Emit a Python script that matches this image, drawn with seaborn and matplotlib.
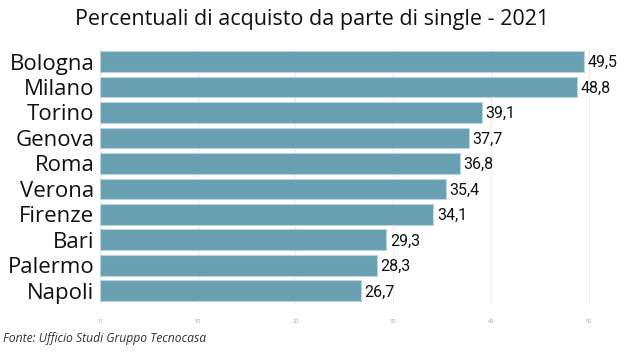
import pandas as pd
import seaborn as sns
import matplotlib.pyplot as plt

cities = ['Bologna', 'Milano', 'Torino', 'Genova', 'Roma',
          'Verona', 'Firenze', 'Bari', 'Palermo', 'Napoli']
values = [49.5, 48.8, 39.1, 37.7, 36.8, 35.4, 34.1, 29.3, 28.3, 26.7]
x_ticks = [0, 10, 20, 30, 40, 50]

title = 'Percentuali di acquisto da parte di single - 2021'
source = 'Fonte: Ufficio Studi Gruppo Tecnocasa'

sns.set_style("white")
plt.rcParams['font.family'] = ['Open Sans', 'DejaVu Sans']

df = pd.DataFrame({'city': cities, 'value': values})

fig = plt.figure(figsize=(6.24, 3.56), dpi=100)
ax = fig.add_axes([0.16, 0.147, 0.815, 0.716])

sns.barplot(data=df, x='value', y='city', color='#68a0b1', saturation=1,
            width=0.82, edgecolor='#b9d6df', linewidth=0.8, ax=ax, zorder=2)

ax.set_xlim(0, 52)
ax.set_xticks(x_ticks)
ax.set_xticklabels([str(t) for t in x_ticks])
ax.tick_params(axis='x', labelsize=4, colors='#a0a0a0', length=0, pad=11)
ax.tick_params(axis='y', labelsize=16, colors='#111111', length=0, pad=4)
ax.grid(axis='x', color='#ececec', linewidth=0.8, zorder=0)
ax.set_xlabel('')
ax.set_ylabel('')
for s in ax.spines.values():
    s.set_visible(False)

for i, v in enumerate(values):
    ax.text(v + 0.35, i + 0.05, f'{v:.1f}'.replace('.', ','), ha='left', va='center',
            fontsize=11.5, family=['Roboto', 'DejaVu Sans'], color='#111111')

fig.text(0.5, 0.945, title, ha='center', va='center', fontsize=15.5, color='#111111')
fig.text(0.005, 0.05, source, ha='left', va='center', fontsize=8.7,
         style='italic', color='#333333')

fig.savefig('out.png', dpi=100)
